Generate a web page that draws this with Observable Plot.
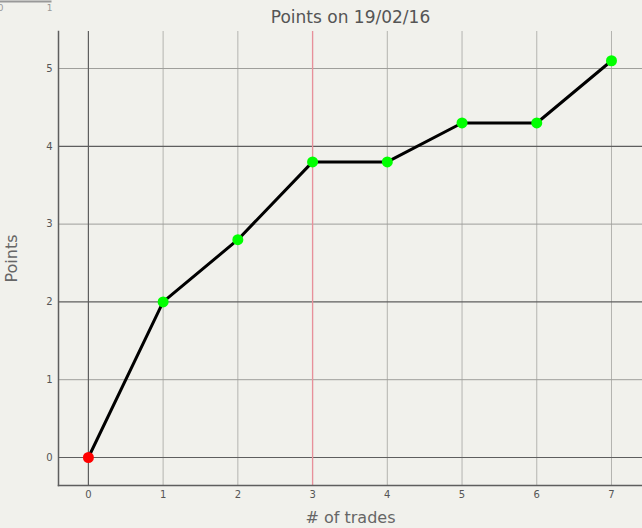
<!DOCTYPE html>
<html>
<head>
<meta charset="utf-8">
<script src="https://cdn.jsdelivr.net/npm/d3@7"></script>
<script src="https://cdn.jsdelivr.net/npm/@observablehq/plot@0.6"></script>
<style>
  html, body { margin: 0; padding: 0; background: #f1f1ec; }
  #wrap { position: relative; width: 642px; height: 528px; overflow: hidden; }
  #mini { position: absolute; left: 0; top: 0; }
</style>
</head>
<body>
<div id="wrap"><div id="chart"></div><div id="mini"></div></div>
<script>
const trades = [0, 1, 2, 3, 4, 5, 6, 7];
const points = [0, 2, 2.8, 3.8, 3.8, 4.3, 4.3, 5.1];
const xTicks = [0, 1, 2, 3, 4, 5, 6, 7];
const yTicks = [0, 1, 2, 3, 4, 5];
const yMajor = [0, 2, 4];
const yMinor = [1, 3, 5];
const markerTrade = [3];
const title = "Points on 19/02/16";
const xLabel = "# of trades";
const yLabel = "Points";

const data = trades.map((t, i) => ({t, p: points[i], first: i === 0}));

const chart = Plot.plot({
  width: 642,
  height: 528,
  marginLeft: 58,
  marginTop: 31,
  marginRight: 0,
  marginBottom: 43,
  style: {background: "#f1f1ec", fontFamily: "DejaVu Sans, sans-serif", fontSize: "10px", color: "#555"},
  x: {domain: [-0.4, 7.415], label: null},
  y: {domain: [-0.36, 5.476], label: null},
  marks: [
    Plot.ruleX(xTicks.filter(d => d !== 0), {stroke: "#b4b4b0", strokeWidth: 1}),
    Plot.ruleY(yMinor, {stroke: "#9e9e9a", strokeWidth: 1}),
    Plot.ruleY(yMajor, {stroke: "#5e5e5e", strokeWidth: 1.2}),
    Plot.ruleX([0], {stroke: "#5e5e5e", strokeWidth: 1.2}),
    Plot.ruleX(markerTrade, {stroke: "#e8909a", strokeWidth: 1.3}),
    Plot.axisX({ticks: xTicks, tickSize: 0, tickPadding: 5, tickFormat: d => d, fill: "#555", fontSize: 10}),
    Plot.axisY({ticks: yTicks, tickSize: 0, tickPadding: 6, tickFormat: d => d, fill: "#555", fontSize: 10}),
    Plot.frame({anchor: "left", stroke: "#5e5e5e", strokeWidth: 1.5}),
    Plot.frame({anchor: "bottom", stroke: "#5e5e5e", strokeWidth: 1.5}),
    Plot.line(data, {x: "t", y: "p", stroke: "black", strokeWidth: 3}),
    Plot.dot(data, {x: "t", y: "p", r: 5.5, fill: d => d.first ? "#ff0000" : "#00ff00", stroke: "none"}),
    Plot.text([title], {frameAnchor: "top", dy: -31 + 17, fontSize: 17, fill: "#555", lineAnchor: "middle"}),
    Plot.text([xLabel], {frameAnchor: "bottom", dy: 32, fontSize: 16, fill: "#666", lineAnchor: "middle"}),
    Plot.text([yLabel], {frameAnchor: "left", dx: -47, rotate: -90, fontSize: 16, fill: "#666", lineAnchor: "middle", textAnchor: "middle"})
  ]
});
document.getElementById("chart").append(chart);

const miniTicks = [0, 1];
const mini = Plot.plot({
  width: 60,
  height: 16,
  marginLeft: 0,
  marginRight: 10,
  marginTop: 1,
  marginBottom: 15,
  style: {background: "transparent", fontFamily: "DejaVu Sans, sans-serif"},
  x: {domain: [0, 1], range: [0, 49], label: null},
  marks: [
    Plot.axisX({ticks: miniTicks, tickSize: 0, tickPadding: 3, fill: "#999", fontSize: 9, tickFormat: d => d}),
    Plot.frame({anchor: "bottom", stroke: "#999", strokeWidth: 2})
  ]
});
document.getElementById("mini").append(mini);
</script>
</body>
</html>
